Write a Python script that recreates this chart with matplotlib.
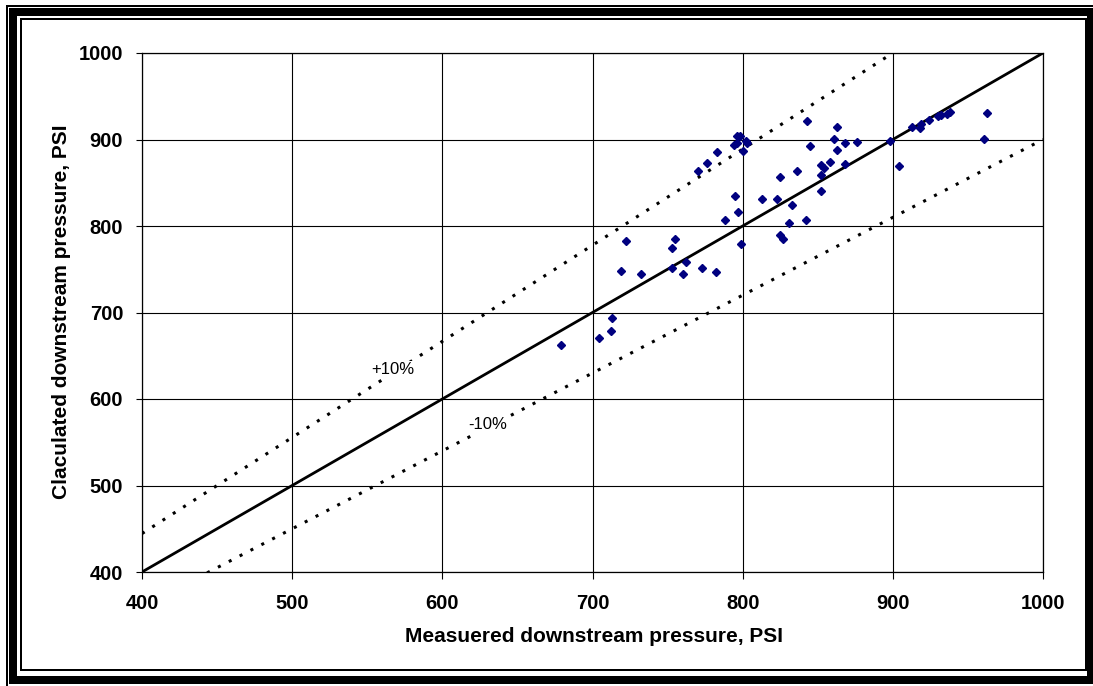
import matplotlib
matplotlib.use("Agg")
import matplotlib.pyplot as plt
from matplotlib.patches import Rectangle
import numpy as np

plt.rcParams['font.family'] = ['Liberation Sans', 'DejaVu Sans']

# Data (measured, calculated)
measured = [679, 704, 712, 713, 719, 722, 732, 753, 755, 753, 762, 760, 773, 782,
            799, 788, 797, 795, 813, 823, 833, 831, 842, 825, 827, 825, 836, 852,
            852, 852, 854, 858, 868, 863, 845, 861, 868, 876, 843, 863, 796, 798,
            794, 796, 802, 803, 800, 783, 776, 770, 898, 904, 913, 918, 919, 924,
            930, 932, 936, 938, 963, 961]
calculated = [662, 670, 679, 694, 748, 783, 745, 752, 785, 774, 758, 745, 752, 747,
              779, 807, 816, 835, 831, 831, 824, 803, 807, 790, 785, 857, 864, 859,
              840, 871, 867, 874, 872, 888, 893, 901, 896, 897, 921, 914, 904, 904,
              894, 896, 898, 896, 887, 885, 873, 864, 898, 869, 915, 913, 918, 922,
              927, 928, 930, 932, 931, 901]

ticks = [400, 500, 600, 700, 800, 900, 1000]
line_x = [400, 1000]

W, H = 1093, 686
fig = plt.figure(figsize=(W / 100, H / 100), dpi=100)
fig.patch.set_facecolor('white')

def fx(px):
    return px / W

def fy(py):
    return 1 - py / H

ax = fig.add_axes([fx(142), fy(572), fx(1043) - fx(142), fy(53) - fy(572)])
ax.set_xlim(400, 1000)
ax.set_ylim(400, 1000)
ax.set_xticks(ticks)
ax.set_yticks(ticks)
ax.grid(True, color='black', linewidth=0.8)
ax.set_axisbelow(True)
for s in ax.spines.values():
    s.set_color('black')
    s.set_linewidth(0.9)
ax.tick_params(axis='x', direction='out', length=5, width=0.8, pad=11, labelsize=14.5)
ax.tick_params(axis='y', direction='out', length=4.5, width=0.8, pad=9, labelsize=14.5)
for lab in ax.get_xticklabels() + ax.get_yticklabels():
    lab.set_fontweight('bold')

lx = np.array(line_x, dtype=float)
ax.plot(lx, lx, color='black', linewidth=2.0, solid_capstyle='butt')
ax.plot(lx, lx / 0.9, color='black', linewidth=2.2, linestyle=(0, (1.0, 3.0)))
ax.plot(lx, lx * 0.9, color='black', linewidth=2.2, linestyle=(0, (1.0, 3.0)))

ax.plot(measured, calculated, linestyle='none', marker='D', markersize=4.2,
        color='#000080', markeredgecolor='#000080')

bbox = dict(facecolor='white', edgecolor='none', pad=1.0)
ax.text(567, 634, '+10%', fontsize=12, ha='center', va='center', bbox=bbox)
ax.text(630, 570, '-10%', fontsize=12, ha='center', va='center', bbox=bbox)

fig.text(fx(594), fy(637), 'Measuered downstream pressure, PSI', fontsize=15,
         fontweight='bold', ha='center', va='center')
fig.text(fx(62), fy(312), 'Claculated downstream pressure, PSI', fontsize=15,
         fontweight='bold', ha='center', va='center', rotation=90)

# Frame
def frame(x0, y0, x1, y1, lw_px):
    r = Rectangle((fx(x0), fy(y1)), fx(x1) - fx(x0), fy(y0) - fy(y1),
                  transform=fig.transFigure, fill=False, edgecolor='black',
                  linewidth=lw_px * 0.72)
    fig.add_artist(r)

frame(7, 6, 1100, 700, 2)
frame(13, 12, 1091, 680, 8)
frame(21, 19, 1086, 670, 2)

fig.savefig('out.png', dpi=100, facecolor='white')
